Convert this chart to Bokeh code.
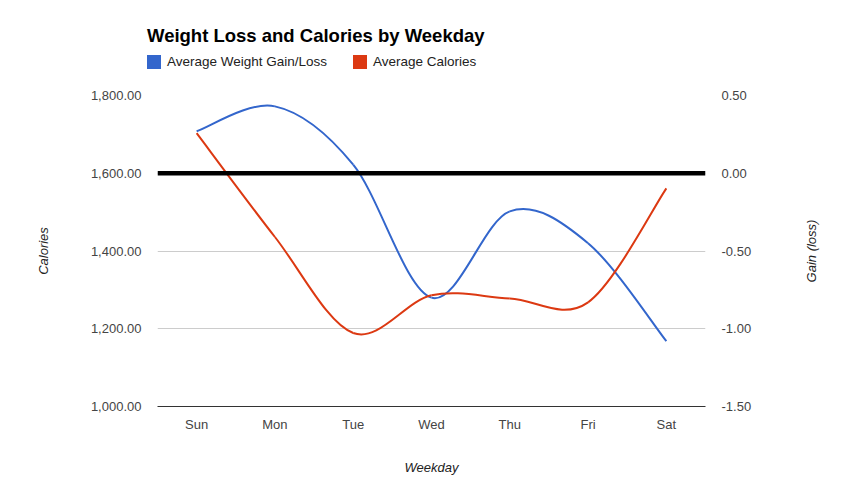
from bokeh.plotting import figure
from bokeh.layouts import column, row
from bokeh.models import (Range1d, LinearAxis, FixedTicker, NumeralTickFormatter,
                          Span, ColumnDataSource, Div)
from bokeh.embed import file_html
from bokeh.resources import INLINE

# ---- data ----
days = ["Sun", "Mon", "Tue", "Wed", "Thu", "Fri", "Sat"]
weight_gain = [0.27, 0.43, 0.055, -0.80, -0.245, -0.45, -1.08]
calories = [1703, 1436, 1189, 1286, 1278, 1268, 1561]
cal_ticks = [1000, 1200, 1400, 1600, 1800]
gain_ticks = [-1.5, -1.0, -0.5, 0.0, 0.5]
series_names = ["Average Weight Gain/Loss", "Average Calories"]
title_text = "Weight Loss and Calories by Weekday"
blue = "#3366cc"
red = "#dc3912"
FONT = "Liberation Sans"
W = 849
HEAD = 80
MAIN_W = 765
H = 412

xs = [i + 0.5 for i in range(len(days))]


def smooth(x, y, s=1.0 / 6.0):
    """Catmull-Rom style cubic Bezier segments through the data points."""
    n = len(x)
    d = dict(x0=[], y0=[], x1=[], y1=[], cx0=[], cy0=[], cx1=[], cy1=[])
    for i in range(n - 1):
        ip = max(i - 1, 0)
        inx = min(i + 2, n - 1)
        d["x0"].append(x[i]); d["y0"].append(y[i])
        d["x1"].append(x[i + 1]); d["y1"].append(y[i + 1])
        d["cx0"].append(x[i] + (x[i + 1] - x[ip]) * s)
        d["cy0"].append(y[i] + (y[i + 1] - y[ip]) * s)
        d["cx1"].append(x[i + 1] - (x[inx] - x[i]) * s)
        d["cy1"].append(y[i + 1] - (y[inx] - y[i]) * s)
    return ColumnDataSource(d)


# ---------- header: title + legend (HTML) ----------
def swatch(left, color):
    return (f'<div style="position:absolute;left:{left}px;top:55px;width:14px;'
            f'height:14px;background:{color};"></div>')


def label(left, text):
    return (f'<div style="position:absolute;left:{left}px;top:55px;height:14px;'
            f'line-height:14px;font-size:13.5px;color:#222222;white-space:nowrap;">'
            f'{text}</div>')


header_html = (
    f'<div style="position:relative;width:{W}px;height:{HEAD}px;'
    f'font-family:\'{FONT}\',Arial,sans-serif;">'
    f'<div style="position:absolute;left:147px;top:25px;height:22px;line-height:22px;'
    f'font-size:18.5px;font-weight:bold;color:#000000;white-space:nowrap;">{title_text}</div>'
    + swatch(147, blue) + label(167, series_names[0])
    + swatch(353, red) + label(373, series_names[1])
    + '</div>'
)
header = Div(text=header_html, width=W, height=HEAD, margin=0)

# ---------- main chart ----------
p = figure(width=MAIN_W, height=H, output_backend="svg", toolbar_location=None,
           x_range=Range1d(0, len(days)), y_range=Range1d(1000, 1800),
           min_border_left=157, min_border_right=60,
           min_border_top=15, min_border_bottom=86, y_axis_location=None)
p.outline_line_color = None
p.background_fill_color = "white"
p.border_fill_color = "white"
p.extra_y_ranges = {"gain": Range1d(-1.5, 0.5)}

left = LinearAxis(ticker=FixedTicker(ticks=cal_ticks),
                  formatter=NumeralTickFormatter(format="0,0.00"),
                  axis_label="Calories")
right = LinearAxis(y_range_name="gain", ticker=FixedTicker(ticks=gain_ticks),
                   formatter=NumeralTickFormatter(format="0.00"))
p.add_layout(left, "left")
p.add_layout(right, "right")

xa = p.xaxis[0]
xa.ticker = FixedTicker(ticks=xs)
xa.major_label_overrides = {x: d for x, d in zip(xs, days)}
xa.axis_label = "Weekday"
xa.axis_line_color = "#333333"

# narrow companion panel carrying the right-hand axis title (reads bottom to top)
g = figure(width=W - MAIN_W, height=H, output_backend="svg", toolbar_location=None,
           x_range=Range1d(0, 1), y_range=Range1d(-1.5, 0.5),
           x_axis_location=None, y_axis_location=None,
           min_border_left=53, min_border_right=0,
           min_border_top=15, min_border_bottom=86)
g.outline_line_color = None
g.grid.visible = False
g.background_fill_color = "white"
g.border_fill_color = "white"
gain_title = LinearAxis(ticker=FixedTicker(ticks=[]), axis_label="Gain (loss)",
                        major_tick_out=0, major_tick_in=0,
                        major_label_standoff=0, axis_label_standoff=0,
                        axis_line_color=None)
g.add_layout(gain_title, "left")

for ax in (left, right, xa, gain_title):
    ax.major_tick_line_color = None
    ax.minor_tick_line_color = None
    ax.major_label_text_font = FONT
    ax.major_label_text_font_size = "13px"
    ax.major_label_text_color = "#444444"
    ax.axis_label_text_font = FONT
    ax.axis_label_text_font_size = "13px"
    ax.axis_label_text_font_style = "italic"
    ax.axis_label_text_color = "#222222"
left.axis_line_color = None
right.axis_line_color = None
left.major_label_standoff = 10
right.major_label_standoff = 10
xa.major_label_standoff = 4
left.axis_label_standoff = 37
xa.axis_label_standoff = 25

p.xgrid.visible = False
p.ygrid.ticker = FixedTicker(ticks=cal_ticks)
p.ygrid.grid_line_color = "#cccccc"

bsrc = smooth(xs, weight_gain)
rsrc = smooth(xs, calories)
p.bezier(x0="x0", y0="y0", x1="x1", y1="y1", cx0="cx0", cy0="cy0",
         cx1="cx1", cy1="cy1", source=bsrc, line_color=blue, line_width=2,
         y_range_name="gain")
p.bezier(x0="x0", y0="y0", x1="x1", y1="y1", cx0="cx0", cy0="cy0",
         cx1="cx1", cy1="cy1", source=rsrc, line_color=red, line_width=2)

p.add_layout(Span(location=0, dimension="width", y_range_name="gain",
                  line_color="black", line_width=4.5))

layout = column(header, row(p, g, spacing=0), spacing=0)
open("out.html", "w").write(file_html(layout, INLINE))
